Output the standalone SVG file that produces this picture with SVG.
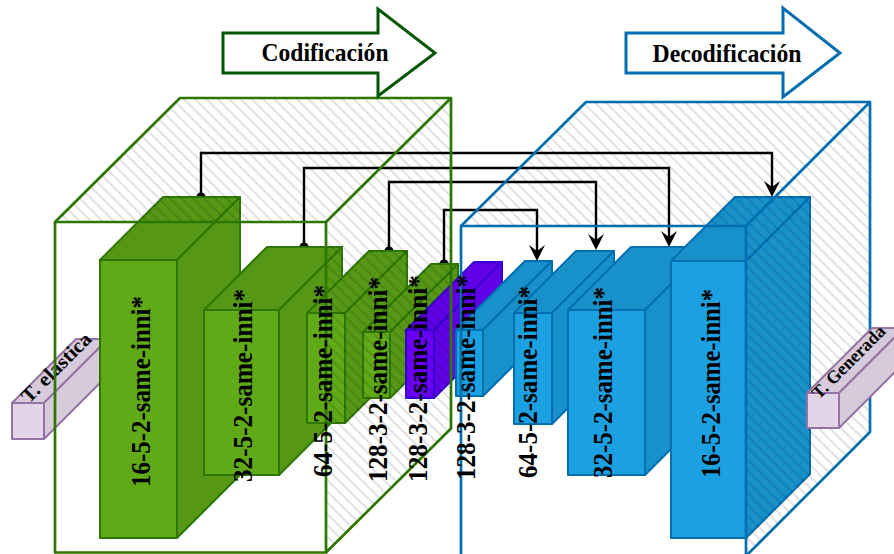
<svg xmlns="http://www.w3.org/2000/svg" width="894" height="554" viewBox="0 0 894 554">
  <defs>
    <style>
      .serif{font-family:"Liberation Serif","Times New Roman",serif;font-weight:bold;fill:#000}
      .lbl{font-size:27px}
      .ttl{font-size:26px}
      .tag{font-size:20px}
      .gf{fill:#60a917;stroke:#2d7600;stroke-width:2;stroke-linejoin:round}
      .gd{fill:#569815;stroke:#2d7600;stroke-width:2;stroke-linejoin:round}
      .bf{fill:#1ba1e2;stroke:#006eaf;stroke-width:2;stroke-linejoin:round}
      .bd{fill:#1891cb;stroke:#006eaf;stroke-width:2;stroke-linejoin:round}
      .pf{fill:#6a00ff;stroke:#3700cc;stroke-width:2;stroke-linejoin:round}
      .pd{fill:#5f00e6;stroke:#3700cc;stroke-width:2;stroke-linejoin:round}
      .lf{fill:#e1d5e7;stroke:#9673a6;stroke-width:2;stroke-linejoin:round}
      .ld{fill:#d6cadb;stroke:#9673a6;stroke-width:2;stroke-linejoin:round}
      .edge{fill:none;stroke:#000;stroke-width:2.4;marker-start:url(#dot);marker-end:url(#arrow)}
      .encl{fill:none;stroke:#2d7600;stroke-width:2.7;stroke-linejoin:round}
      .decl{fill:none;stroke:#006eaf;stroke-width:2.7;stroke-linejoin:round}
      .hatch{fill:url(#hatch);stroke:none}
    </style>
    <pattern id="hatch" patternUnits="userSpaceOnUse" width="8" height="8" patternTransform="rotate(45)">
      <line x1="0" y1="4" x2="8" y2="4" stroke="#000" stroke-opacity="0.14" stroke-width="1.6"/>
    </pattern>
    <marker id="arrow" viewBox="0 0 16 16" markerWidth="16" markerHeight="16" refX="6" refY="8" orient="auto" markerUnits="userSpaceOnUse">
      <path d="M0,0 L16,8 L0,16 L6,8 Z" fill="#000"/>
    </marker>
    <marker id="dot" viewBox="0 0 10 10" markerWidth="10" markerHeight="10" refX="5" refY="5" markerUnits="userSpaceOnUse">
      <circle cx="5" cy="5" r="4.6" fill="#000"/>
    </marker>
  </defs>

  <!-- input tensor -->
  <g id="t-elastica">
    <polygon class="ld" points="12,403 76,339 108,339 44,403"/>
    <polygon class="ld" points="44,403 108,339 108,375 44,439"/>
    <rect class="lf" x="12" y="403" width="32" height="36"/>
    <text class="serif tag" x="29" y="404" textLength="90" lengthAdjust="spacingAndGlyphs" transform="rotate(-45 29 404)">T. elastica</text>
  </g>

  <!-- skip connections -->
  <g id="connectors">
    <path class="edge" d="M201,197 V153 H772 V187"/>
    <path class="edge" d="M304,247 V168 H669 V237"/>
    <path class="edge" d="M389,251 V182 H596 V240"/>
    <path class="edge" d="M444,264 V210 H537 V251"/>
  </g>

  <!-- encoder layers -->
  <g id="enc-16">
    <polygon class="gd" points="100,260 163,197 240,197 177,260"/>
    <polygon class="gd" points="177,260 240,197 240,475 177,538"/>
    <rect class="gf" x="100" y="260" width="77" height="278"/>
  </g>
  <g id="enc-32">
    <polygon class="gd" points="204,310 267,247 342,247 279,310"/>
    <polygon class="gd" points="279,310 342,247 342,412 279,475"/>
    <rect class="gf" x="204" y="310" width="75" height="165"/>
  </g>
  <g id="enc-64">
    <polygon class="gd" points="307,313 369,251 407,251 345,313"/>
    <polygon class="gd" points="345,313 407,251 407,361 345,423"/>
    <rect class="gf" x="307" y="313" width="38" height="110"/>
  </g>
  <g id="enc-128">
    <polygon class="gd" points="363,332 431,264 458,264 390,332"/>
    <polygon class="gd" points="390,332 458,264 458,330 390,398"/>
    <rect class="gf" x="363" y="332" width="27" height="66"/>
  </g>
  <g id="bottleneck">
    <polygon class="pd" points="406,330 474,262 502,262 434,330"/>
    <polygon class="pd" points="434,330 502,262 502,330 434,398"/>
    <rect class="pf" x="406" y="330" width="28" height="68"/>
  </g>

  <!-- decoder layers -->
  <g id="dec-128">
    <polygon class="bd" points="456,330 525,261 552,261 483,330"/>
    <polygon class="bd" points="483,330 552,261 552,327 483,396"/>
    <rect class="bf" x="456" y="330" width="27" height="66"/>
  </g>
  <g id="dec-64">
    <polygon class="bd" points="514,313 576,251 614,251 552,313"/>
    <polygon class="bd" points="552,313 614,251 614,362 552,424"/>
    <rect class="bf" x="514" y="313" width="38" height="111"/>
  </g>
  <g id="dec-32">
    <polygon class="bd" points="568,310 631,247 708,247 645,310"/>
    <polygon class="bd" points="645,310 708,247 708,412 645,475"/>
    <rect class="bf" x="568" y="310" width="77" height="165"/>
  </g>
  <g id="dec-16">
    <polygon class="bd" points="671,261 735,197 810,197 746,261"/>
    <polygon class="bd" points="746,261 810,197 810,474 746,538"/>
    <rect class="bf" x="671" y="261" width="75" height="277"/>
  </g>

  <!-- encoder enclosure -->
  <g id="encoder">
    <polygon class="hatch" points="55,222 180,98 451,98 326,222"/>
    <polygon class="hatch" points="326,222 451,98 451,428.5 326,552.5"/>
    <rect class="encl" x="55" y="222" width="271" height="330.5"/>
    <path class="encl" d="M55,222 L180,98 H451 L326,222 M451,98 V428.5 L326,552.5"/>
  </g>

  <!-- decoder enclosure -->
  <g id="decoder">
    <polygon class="hatch" points="461,226 586,102 870,102 746,226"/>
    <polygon class="hatch" points="746,226 870,102 870,432 746,556"/>
    <rect class="decl" x="461" y="226" width="285" height="330"/>
    <path class="decl" d="M461,226 L586,102 H870 L746,226 M870,102 V432 L746,556"/>
  </g>

  <!-- output tensor -->
  <g id="t-generada">
    <polygon class="ld" points="807,393 872,328 904,328 839,393"/>
    <polygon class="ld" points="839,393 904,328 904,363 839,428"/>
    <rect class="lf" x="807" y="393" width="32" height="35"/>
    <text class="serif" font-size="18" x="819" y="400" transform="rotate(-45 819 400)">T. Generada</text>
  </g>

  <!-- layer captions -->
  <g id="labels" class="serif lbl">
    <text id="enc-16-label" x="150" y="487" textLength="191" lengthAdjust="spacingAndGlyphs" transform="rotate(-90 150 487)">16-5-2-same-inni*</text>
    <text id="enc-32-label" x="252" y="482" textLength="193" lengthAdjust="spacingAndGlyphs" transform="rotate(-90 252 482)">32-5-2-same-inni*</text>
    <text id="enc-64-label" x="332" y="477" textLength="192" lengthAdjust="spacingAndGlyphs" transform="rotate(-90 332 477)">64-5-2-same-inni*</text>
    <text id="enc-128-label" x="387" y="482" textLength="205" lengthAdjust="spacingAndGlyphs" transform="rotate(-90 387 482)">128-3-2-same-inni*</text>
    <text id="bottleneck-label" x="427" y="482" textLength="207" lengthAdjust="spacingAndGlyphs" transform="rotate(-90 427 482)">128-3-2-same-inni*</text>
    <text id="dec-128-label" x="475" y="480" textLength="205" lengthAdjust="spacingAndGlyphs" transform="rotate(-90 475 480)">128-3-2-same-inni*</text>
    <text id="dec-64-label" x="537" y="478" textLength="192" lengthAdjust="spacingAndGlyphs" transform="rotate(-90 537 478)">64-5-2-same-inni*</text>
    <text id="dec-32-label" x="612" y="478" textLength="191" lengthAdjust="spacingAndGlyphs" transform="rotate(-90 612 478)">32-5-2-same-inni*</text>
    <text id="dec-16-label" x="720" y="478" textLength="189" lengthAdjust="spacingAndGlyphs" transform="rotate(-90 720 478)">16-5-2-same-inni*</text>
  </g>

  <!-- stage banners -->
  <g id="codificacion">
    <polygon points="223,33 378,33 378,9 435,53 378,96 378,73 223,73" fill="#fff" stroke="#005700" stroke-width="3" stroke-linejoin="miter"/>
    <text class="serif ttl" x="325" y="61" text-anchor="middle" textLength="127" lengthAdjust="spacingAndGlyphs">Codificación</text>
  </g>
  <g id="decodificacion">
    <polygon points="626,33 783,33 783,8 840,53 783,97 783,73 626,73" fill="#fff" stroke="#006eaf" stroke-width="3" stroke-linejoin="miter"/>
    <text class="serif ttl" x="727" y="62" text-anchor="middle" textLength="149" lengthAdjust="spacingAndGlyphs">Decodificación</text>
  </g>
</svg>
